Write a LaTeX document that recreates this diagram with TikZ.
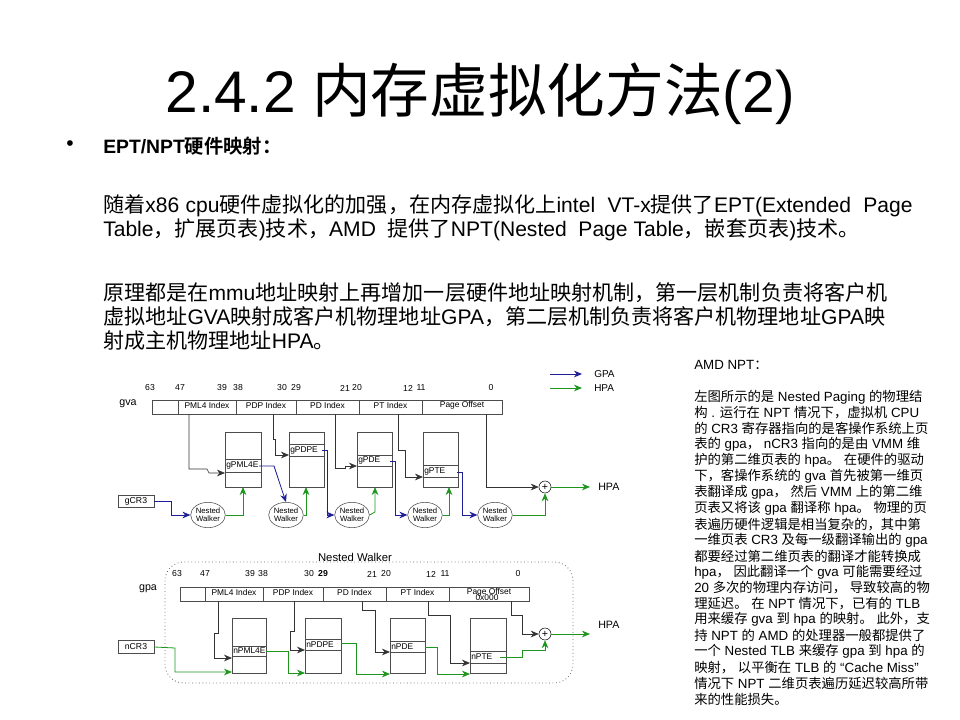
\documentclass[tikz,border=0pt]{standalone}
\usepackage{fontspec}
\usetikzlibrary{arrows.meta,shapes.geometric}
\setmainfont{Liberation Sans}
\newfontfamily\cjk{Noto Sans CJK SC}[BoldFont={Noto Sans CJK SC Bold}]
\XeTeXinterchartokenstate=1
\newXeTeXintercharclass\CJKcls
\count255="4E00 \loop\XeTeXcharclass\count255=\CJKcls\ifnum\count255<"9FFF\advance\count255 1\repeat
\count255="3000 \loop\XeTeXcharclass\count255=\CJKcls\ifnum\count255<"303F\advance\count255 1\repeat
\count255="FF00 \loop\XeTeXcharclass\count255=\CJKcls\ifnum\count255<"FFEF\advance\count255 1\repeat
\XeTeXinterchartoks 0 \CJKcls = {\begingroup\cjk}
\XeTeXinterchartoks 4095 \CJKcls = {\begingroup\cjk}
\XeTeXinterchartoks \CJKcls 0 = {\endgroup}
\XeTeXinterchartoks \CJKcls 4095 = {\endgroup}
\definecolor{gb}{RGB}{30,30,150}
\definecolor{gg}{RGB}{30,150,30}
\tikzset{
 reg/.style={draw=black!70,line width=0.5pt},
 tbl/.style={draw=black!70,line width=0.5pt},
 sm/.style={font=\fontsize{6.3pt}{7pt}\selectfont,inner sep=0pt},
 bit/.style={font=\fontsize{6.5pt}{7pt}\selectfont,inner sep=0pt},
 blk/.style={draw=black!80,line width=0.5pt,-{Stealth[length=6pt,width=5pt]}},
 bl/.style={draw=gb,line width=0.6pt,-{Stealth[length=6pt,width=5pt]}},
 gr/.style={draw=gg,line width=0.6pt,-{Stealth[length=6pt,width=5pt]}},
 walker/.style={draw=black!70,ellipse,minimum width=25pt,minimum height=19pt,inner sep=0pt,font=\fontsize{5.8pt}{6.2pt}\selectfont,align=center},
 plus/.style={draw=black,circle,minimum size=9pt,inner sep=0pt,font=\fontsize{8pt}{8pt}\selectfont},
 para/.style={anchor=west,inner sep=0pt,font=\fontsize{15.8pt}{18pt}\selectfont},
 side/.style={anchor=west,inner sep=0pt,font=\fontsize{10pt}{11pt}\selectfont},
}
\begin{document}
\begin{tikzpicture}[x=0.75pt,y=-0.75pt]
\useasboundingbox (0,0) rectangle (960,720);
\fill[white] (0,0) rectangle (960,720);
\node[inner sep=0pt,font=\fontsize{44pt}{50pt}\selectfont] (title) at (480,94) {2.4.2 内存虚拟化方法(2)};
\node[para] (bul) at (66,146) {•};
\node[para,font=\fontsize{14.5pt}{16pt}\selectfont\bfseries] (head) at (103,146) {EPT/NPT硬件映射：};
\node[para] (p1) at (103,206) {\makebox[607pt][s]{随着x86 cpu硬件虚拟化的加强，在内存虚拟化上intel \ VT-x提供了EPT(Extended \ Page}};
\node[para] (p2) at (103,230) {Table，扩展页表)技术，AMD \ 提供了NPT(Nested \ Page Table，嵌套页表)技术。};
\node[para] (p3) at (103,293) {原理都是在mmu地址映射上再增加一层硬件地址映射机制，第一层机制负责将客户机};
\node[para] (p4) at (103,317) {虚拟地址GVA映射成客户机物理地址GPA，第二层机制负责将客户机物理地址GPA映};
\node[para] (p5) at (103,341) {射成主机物理地址HPA。};
% side text
\node[side] (s0) at (694,365) {AMD NPT：};
\foreach \t [count=\i from 0] in {
左图所示的是 Nested Paging 的物理结,
构 . 运行在 NPT 情况下，虚拟机 CPU,
的 CR3 寄存器指向的是客操作系统上页,
表的 gpa， nCR3 指向的是由 VMM 维,
护的第二维页表的 hpa。 在硬件的驱动,
下，客操作系统的 gva 首先被第一维页,
表翻译成 gpa， 然后 VMM 上的第二维,
页表又将该 gpa 翻译称 hpa。 物理的页,
表遍历硬件逻辑是相当复杂的，其中第,
一维页表 CR3 及每一级翻译输出的 gpa,
都要经过第二维页表的翻译才能转换成,
hpa， 因此翻译一个 gva 可能需要经过,
20 多次的物理内存访问， 导致较高的物,
理延迟。 在 NPT 情况下，已有的 TLB,
用来缓存 gva 到 hpa 的映射。 此外，支,
持 NPT 的 AMD 的处理器一般都提供了,
一个 Nested TLB 来缓存 gpa 到 hpa 的,
映射， 以平衡在 TLB 的 “Cache Miss”,
情况下 NPT 二维页表遍历延迟较高所带,
来的性能损失。}
 \node[side] (sl\i) at (694,397+15.9*\i) {\t};

% ===== diagram 1 =====
\draw[bl] (550,374) -- (582,374);
\node[sm,anchor=west,font=\fontsize{7.5pt}{8pt}\selectfont] (lgpa) at (594,374) {GPA};
\draw[gr] (550,388) -- (582,388);
\node[sm,anchor=west,font=\fontsize{7.5pt}{8pt}\selectfont] (lhpa) at (594,388) {HPA};
\foreach \x/\n in {150/63,180/47,222/39,238/38,282/30,296/29,345/21,357/20,408/12,421/11,491/0}
 \node[bit] at (\x,388) {\n};
\node[bit,font=\fontsize{8pt}{9pt}\selectfont] (gva) at (128,404) {gva};
\draw[reg] (152,400) rectangle (502,414);
\foreach \x in {178,236,296,359,422} \draw[reg] (\x,400) -- (\x,414);
\foreach \a/\b/\t in {178/236/PML4 Index,236/296/PDP Index,296/359/PD Index,359/422/PT Index,422/502/Page Offset}
 \node[sm] at ({(\a+\b)/2},405) {\t};
% tables
\foreach \a/\b/\u/\v/\t in {225/261/459/472/gPML4E,289/324/444/456/gPDPE,357/392/455/466/gPDE,423/458/465/477/gPTE}{
 \draw[tbl] (\a,432) rectangle (\b,487);
 \draw[tbl] (\a,\u) -- (\b,\u); \draw[tbl] (\a,\v) -- (\b,\v);
 \node[sm,anchor=west] at (\a+1,{(\u+\v)/2}) {\t};}
\draw[blk] (189,414) -- (189,469) -- (207,469) -- (209,473) -- (225,473);
\draw[blk] (273,414) -- (273,439) -- (275,439) -- (275,455) -- (289,455);
\draw[blk] (335,414) -- (335,468) -- (345,468) -- (345,466) -- (357,466);
\draw[blk] (398,414) -- (398,450) -- (405,450) -- (405,477) -- (423,477);
\node[plus] (p1x) at (545,487) {+};
\draw[blk] (486,414) -- (486,487) -- (p1x.west);
\draw[gr] (p1x.east) -- (590,487);
\node[sm,anchor=west,font=\fontsize{8pt}{9pt}\selectfont] (hpa1) at (598,487) {HPA};
\node[draw=black!70,minimum width=27pt,minimum height=9pt,inner sep=0pt,font=\fontsize{6.5pt}{7pt}\selectfont] (gcr3) at (136,501) {gCR3};
\foreach \x [count=\i] in {208,286,352,425,495}
 \node[walker] (w\i) at (\x,515) {Nested\\Walker};
\draw[bl] (gcr3.east) -- (171,501) -- (171,515) -- (w1.west);
\draw[gr] (w1.east) -- (243,515) -- (243,487);
\draw[bl] (259,466) -- (274,466) -- (w2.north);
\draw[gr] (w2.east) -- (306,515) -- (306,487);
\draw[bl] (322,450) -- (327,450) -- (327,515) -- (w3.west);
\draw[gr] (w3.east) -- (375,512) -- (375,487);
\draw[bl] (390,461) -- (395,461) -- (395,515) -- (w4.west);
\draw[gr] (w4.east) -- (449,515) -- (449,487);
\draw[bl] (457,472) -- (462,472) -- (462,515) -- (w5.west);
\draw[gr] (w5.east) -- (545,515) -- (p1x.south);

% ===== diagram 2 =====
\node[inner sep=0pt,font=\fontsize{8.5pt}{9pt}\selectfont] (nw) at (355,557) {Nested Walker};
\draw[black!60,dotted,line width=0.6pt,rounded corners=14pt] (165,562) rectangle (573,683);
\foreach \x/\n in {177/63,205/47,250/39,263/38,309/30,372/21,386/20,431/12,445/11,518/0}
 \node[bit] at (\x,574) {\n};
\node[bit,font=\fontsize{6.5pt}{7pt}\selectfont\bfseries] at (323,574) {29};
\node[bit,font=\fontsize{8pt}{9pt}\selectfont] (gpa) at (148,589) {gpa};
\draw[reg] (180,587) rectangle (529,601);
\foreach \x in {205,263,323,386,449} \draw[reg] (\x,587) -- (\x,601);
\foreach \a/\b/\t in {205/263/PML4 Index,263/323/PDP Index,323/386/PD Index,386/449/PT Index,449/529/Page Offset}
 \node[sm] at ({(\a+\b)/2},592) {\t};
\node[sm] at (487,598) {0x000};
\foreach \a/\b/\u/\v/\t in {232/266/646/656/nPML4E,305/341/639/650/nPDPE,390/425/641/652/nPDE,470/506/651/663/nPTE}{
 \draw[tbl] (\a,618) rectangle (\b,673);
 \draw[tbl] (\a,\u) -- (\b,\u); \draw[tbl] (\a,\v) -- (\b,\v);
 \node[sm,anchor=west] at (\a+1,{(\u+\v)/2}) {\t};}
\draw[blk] (218,601) -- (218,633) -- (214,633) -- (214,658) -- (232,658);
\draw[blk] (294,601) -- (294,631) -- (290,631) -- (290,650) -- (305,650);
\draw[blk] (362,601) -- (362,610) -- (375,610) -- (375,652) -- (390,652);
\draw[blk] (428,601) -- (428,615) -- (450,615) -- (450,663) -- (470,663);
\node[plus] (p2x) at (545,634) {+};
\draw[blk] (511,601) -- (511,615) -- (522,615) -- (522,634) -- (p2x.west);
\draw[gr] (p2x.east) -- (590,634);
\node[sm,anchor=west,font=\fontsize{8pt}{9pt}\selectfont] (hpa2) at (598,625) {HPA};
\node[draw=black!70,minimum width=27pt,minimum height=10pt,inner sep=0pt,font=\fontsize{6.5pt}{7pt}\selectfont] (ncr3) at (136,647) {nCR3};
\draw[gr] (ncr3.east) -- (175,648) -- (175,672) -- (232,672);
\draw[gr] (266,651) -- (288,651) -- (288,673) -- (305,673);
\draw[gr] (341,643) -- (356,643) -- (356,674) -- (390,674);
\draw[gr] (425,647) -- (437,647) -- (437,674) -- (470,674);
\draw[gr] (500,657) -- (522,657) -- (522,650) -- (545,650) -- (p2x.south);
\end{tikzpicture}
\end{document}
